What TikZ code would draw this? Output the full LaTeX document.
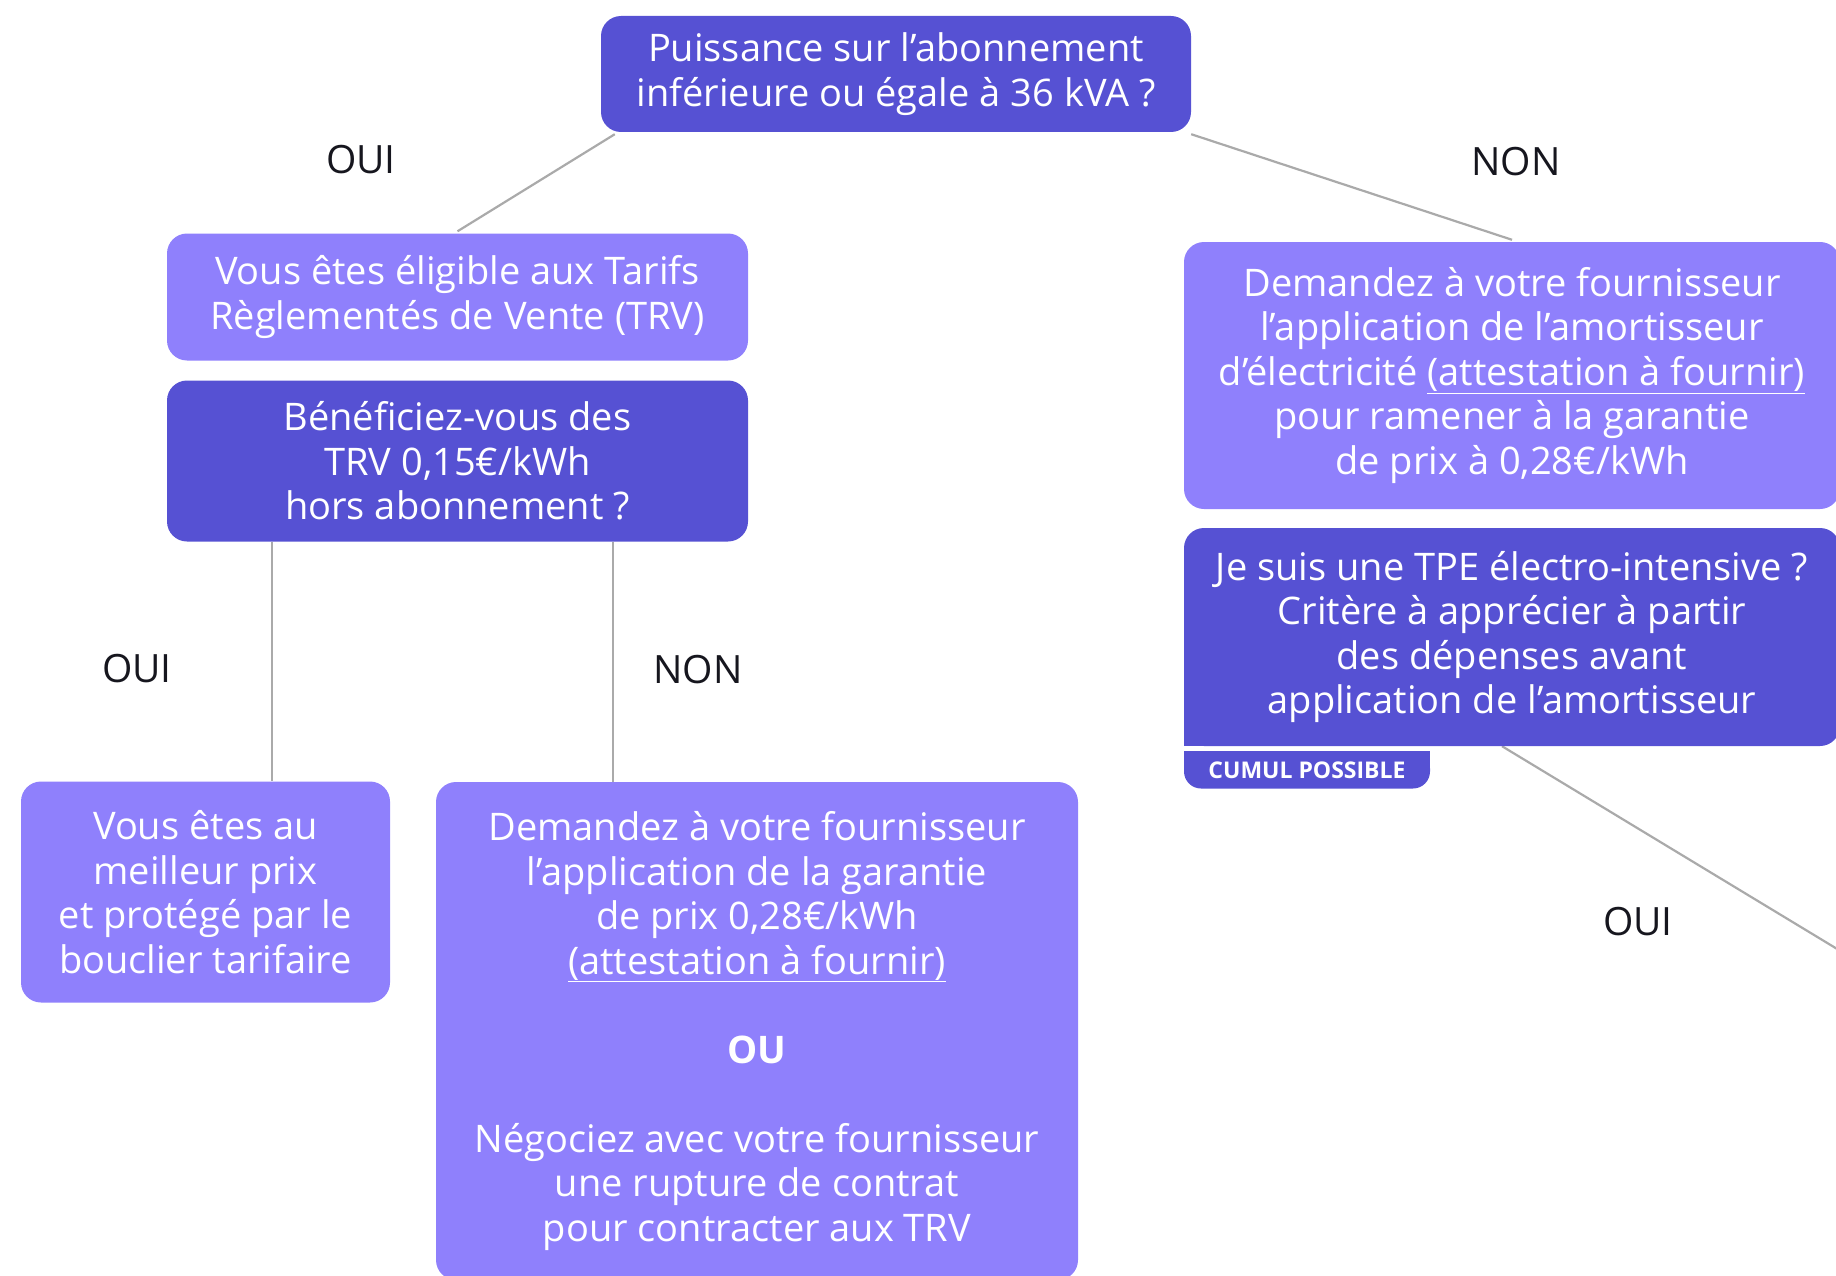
\documentclass[tikz,border=0pt]{standalone}
\usepackage{fontspec}
\setmainfont{Open Sans}
\usetikzlibrary{backgrounds}

\definecolor{violetfonce}{RGB}{86,81,211}
\definecolor{violetclair}{RGB}{143,128,252}
\definecolor{trait}{RGB}{170,170,170}
\definecolor{encre}{RGB}{22,22,30}

\begin{document}
\begin{tikzpicture}[x=1pt,y=-1pt,
boite/.style={rounded corners=20pt, text=white, align=center, inner sep=0pt,
  font=\fontsize{38}{44.5}\selectfont},
question/.style={boite, fill=violetfonce},
reponse/.style={boite, fill=violetclair},
onglet/.style={rounded corners=17pt, fill=violetfonce, text=white, inner sep=0pt,
  font=\fontsize{23}{26}\selectfont\bfseries},
lien/.style={draw=trait, line width=2.2pt},
choix/.style={text=encre, font=\fontsize{39}{42}\selectfont}]

\useasboundingbox (0,0) rectangle (1836,1276);

% question at the top
\node[question, minimum width=590pt, minimum height=116pt] (puissance) at (896,74)
{Puissance sur l’abonnement\\inférieure ou égale à 36 kVA ?};

% left branch
\node[reponse, minimum width=581pt, minimum height=127pt] (eligible) at (457.5,297)
{Vous êtes éligible aux Tarifs\\Règlementés de Vente (TRV)};
\node[question, minimum width=581pt, minimum height=161pt] (trv) at (457.5,461)
{Bénéficiez-vous des\\TRV 0,15€/kWh\\hors abonnement ?};

\node[reponse, minimum width=369pt, minimum height=221pt] (meilleur) at (205.5,892)
{Vous êtes au\\meilleur prix\\et protégé par le\\bouclier tarifaire};
\node[reponse, minimum width=642pt, minimum height=498pt] (garantie) at (757,1031)
{Demandez à votre fournisseur\\l’application de la garantie\\de prix 0,28€/kWh\\
\underline{(attestation à fournir)}\\[44.5pt]{\bfseries OU}\\[44.5pt]
Négociez avec votre fournisseur\\une rupture de contrat\\pour contracter aux TRV};

% right branch
\node[reponse, minimum width=656pt, minimum height=267pt] (amortisseur) at (1512,375.5)
{Demandez à votre fournisseur\\l’application de l’amortisseur\\
d’électricité \underline{(attestation à fournir)}\\pour ramener à la garantie\\de prix à 0,28€/kWh};
\node[question, minimum width=656pt, minimum height=218pt] (tpe) at (1512,637)
{Je suis une TPE électro-intensive ?\\Critère à apprécier à partir\\des dépenses avant\\application de l’amortisseur};
\node[onglet, minimum width=246pt, minimum height=37pt] (cumul) at (1307,770) {CUMUL POSSIBLE};
\coordinate (suite) at (1900,987);

% answers
\node[choix] (oui1) at (361,160) {OUI};
\node[choix] (non1) at (1516,162) {NON};
\node[choix] (oui2) at (137,669) {OUI};
\node[choix] (non2) at (698,670) {NON};
\node[choix] (oui3) at (1638,922) {OUI};

\begin{scope}[on background layer]
% square corners
\fill[violetfonce] (tpe.south west) rectangle ++(24,-24);
\fill[violetfonce] (cumul.north west) rectangle (cumul.east);
% links
\draw[lien] ([xshift=14pt,yshift=-2pt]puissance.south west) -- ([yshift=2pt]eligible.north);
\draw[lien] ([yshift=-2pt]puissance.south east) -- ([yshift=2pt]amortisseur.north);
\draw[lien] ([xshift=105pt]trv.south west) -- ([xshift=105pt]trv.south west |- meilleur.north);
\draw[lien] ([xshift=446pt]trv.south west) -- ([xshift=446pt]trv.south west |- garantie.north);
\draw[lien] ([xshift=-10pt]tpe.south) -- (suite);
\end{scope}

\end{tikzpicture}
\end{document}
